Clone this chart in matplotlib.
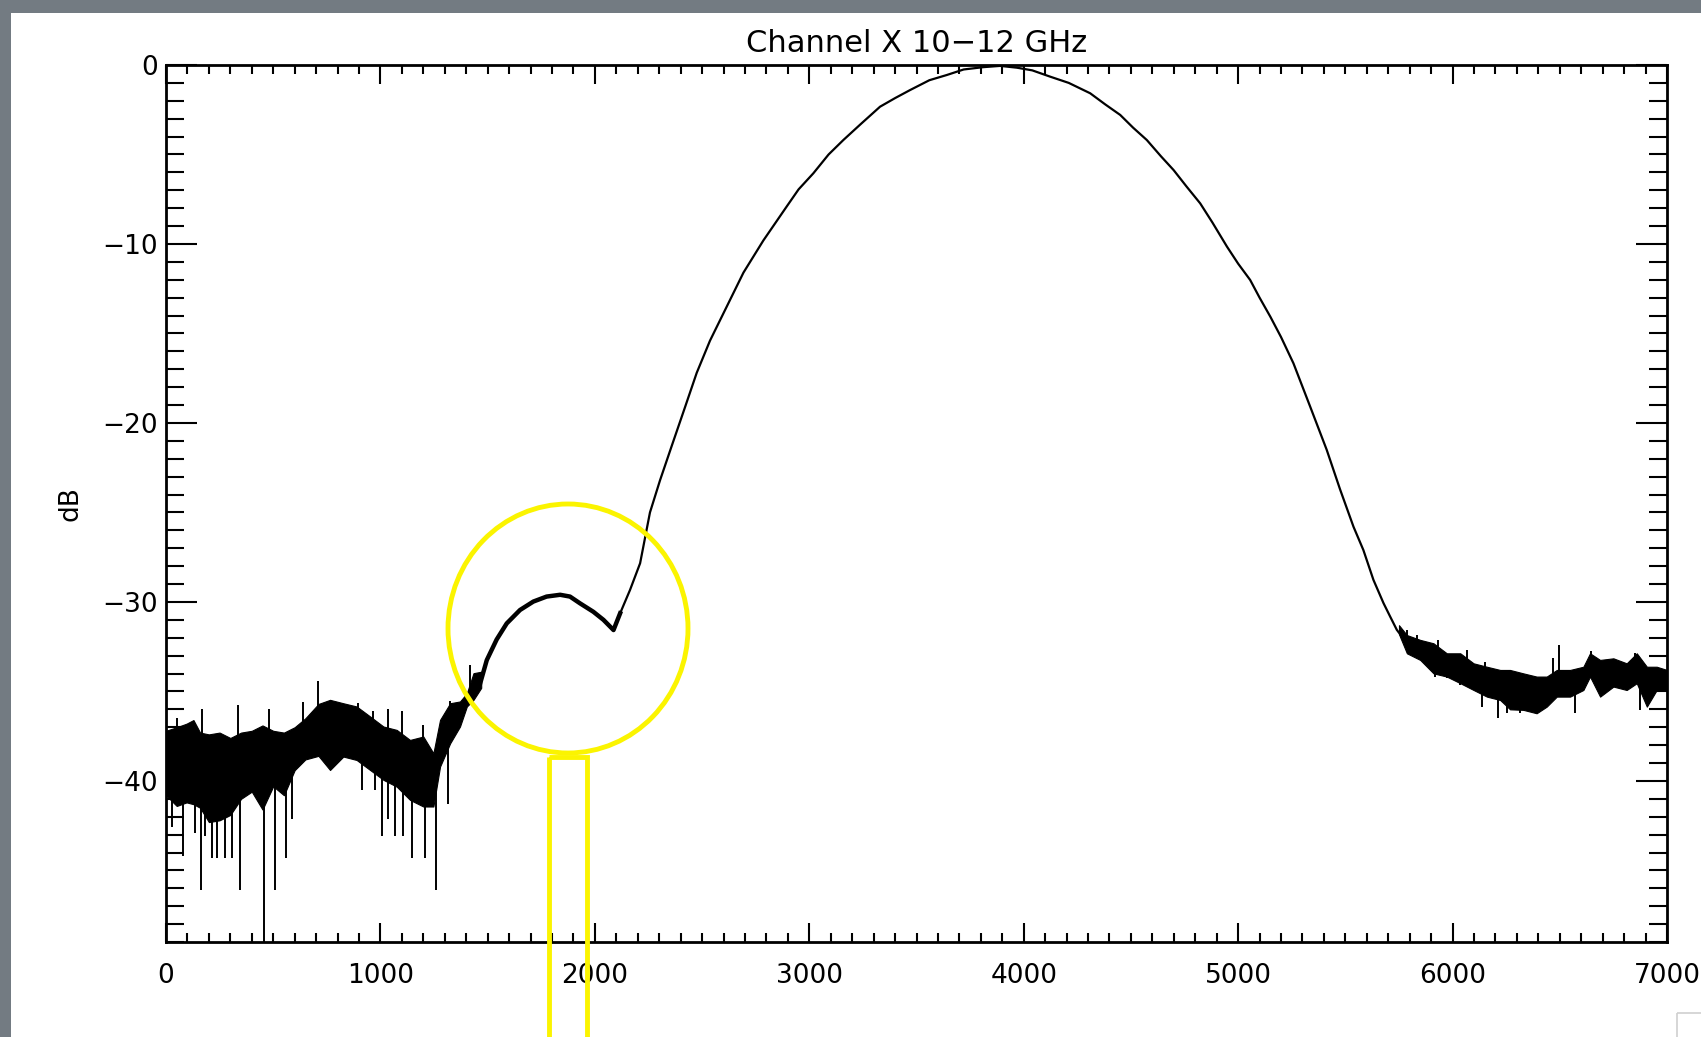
import numpy as np
import matplotlib.pyplot as plt
from matplotlib import transforms
from matplotlib.patches import Ellipse, Rectangle
from matplotlib.ticker import MultipleLocator

# --- data (x: channel, y: dB) ---
# smooth part of the response
curve_x = [1434, 1464, 1496, 1542, 1589, 1651, 1713, 1775, 1838, 1884, 1931, 1993,
           2040, 2087, 2118, 2164, 2211, 2257, 2304, 2358, 2421, 2475, 2537, 2615,
           2693, 2786, 2895, 2950, 3019, 3090, 3159, 3240, 3330, 3400, 3470, 3560,
           3641, 3720, 3812, 3890, 3968, 4040, 4123, 4210, 4310, 4380, 4450, 4510,
           4574, 4640, 4699, 4760, 4823, 4880, 4948, 5000, 5056, 5100, 5150, 5200,
           5258, 5336, 5413, 5475, 5538, 5584, 5631, 5678, 5709, 5740, 5787]
curve_y = [-34.7, -34.6, -33.25, -32.1, -31.2, -30.45, -29.98, -29.7, -29.6, -29.7, -30.08, -30.55,
           -31.0, -31.57, -30.63, -29.33, -27.84, -25.0, -23.2, -21.3, -19.1, -17.2, -15.4, -13.5,
           -11.6, -9.8, -7.9, -6.95, -6.05, -5.0, -4.19, -3.3, -2.33, -1.85, -1.40, -0.85,
           -0.56, -0.25, -0.12, -0.05, -0.15, -0.3, -0.65, -1.0, -1.58, -2.2, -2.79, -3.5,
           -4.19, -5.1, -5.87, -6.8, -7.73, -8.8, -10.15, -11.1, -12.01, -13.0, -14.06, -15.2,
           -16.67, -19.09, -21.5, -23.7, -25.8, -27.1, -28.77, -30.07, -30.82, -31.56, -32.3]
bump_end = 2130

# noisy floor, low channels (upper / lower edge of the dense band)
low_x = [0, 50, 96, 128, 159, 200, 250, 300, 350, 400, 450, 500, 550, 600, 650,
         711, 765, 827, 889, 952, 1014, 1076, 1138, 1200, 1247, 1278, 1325, 1371,
         1403, 1434, 1470]
low_hi = [-37.2, -37.0, -36.8, -36.6, -37.3, -37.4, -37.3, -37.6, -37.3, -37.2, -36.9, -37.2,
          -37.3, -37.0, -36.5, -35.7, -35.47, -35.66, -35.84, -36.4, -36.96, -37.15, -37.71,
          -37.52, -38.45, -36.59, -35.66, -35.56, -35.1, -33.98, -33.9]
low_lo = [-40.8, -41.4, -41.2, -41.3, -41.5, -42.3, -42.2, -41.9, -41.0, -40.6, -41.6, -40.3,
          -40.8, -39.4, -38.8, -38.6, -39.39, -38.64, -38.83, -39.39, -39.94, -40.32, -41.06,
          -41.43, -41.43, -39.2, -37.9, -36.96, -35.84, -35.47, -34.8]

# spikes on the low-channel floor
down_x = [26, 81, 135, 162, 182, 213, 236, 275, 306, 345, 457, 509, 560, 586,
          913, 975, 1006, 1037, 1068, 1107, 1146, 1208, 1260, 1317]
down_top = [-40, -39, -39, -39.5, -39.5, -40, -40, -40, -40, -39.5, -39.5, -39, -39, -39,
            -38, -38, -38.5, -38.5, -39, -39, -39.5, -39.5, -40, -37]
down_tip = [-42.6, -44.2, -42.9, -46.1, -43.1, -44.3, -44.3, -44.3, -44.3, -46.1, -49.0, -46.1,
            -44.3, -42.1, -40.5, -40.5, -43.1, -42.1, -43.1, -43.1, -44.3, -44.3, -46.1, -41.3]
up_x = [50, 166, 337, 482, 641, 711, 897, 967, 1037, 1099, 1197, 1325, 1418]
up_base = [-38.5, -38.5, -38.5, -38.5, -37.5, -36.5, -37, -37.5, -38, -38.5, -39, -37, -35]
up_tip = [-36.5, -36.0, -35.75, -36.0, -35.6, -34.4, -35.66, -36.1, -36.0, -36.1, -36.9, -35.56, -33.5]

# noisy floor, high channels
tail_x = [5750, 5787, 5849, 5911, 5973, 6036, 6098, 6160, 6222, 6268, 6330, 6392, 6439,
          6486, 6548, 6610, 6641, 6688, 6750, 6812, 6859, 6906, 6952, 7000]
tail_hi = [-31.3, -31.85, -32.12, -32.31, -32.87, -32.87, -33.43, -33.62, -33.8, -33.8, -33.99,
           -34.17, -34.17, -33.8, -33.8, -33.62, -32.87, -33.24, -33.15, -33.43, -32.87, -33.62,
           -33.62, -33.8]
tail_lo = [-31.8, -32.87, -33.24, -33.99, -34.17, -34.54, -34.92, -35.29, -35.48, -36.0, -36.03,
           -36.22, -35.85, -35.29, -35.29, -34.92, -34.17, -35.29, -34.73, -34.92, -34.54, -35.85,
           -34.92, -34.92]
tail_up_x = [5787, 5833, 5934, 6067, 6152, 6470, 6498, 6646, 6851]
tail_up_base = [-32.5, -32.8, -33.2, -33.7, -34.3, -34.5, -34.5, -33.8, -33.8]
tail_up_tip = [-31.56, -31.84, -32.12, -32.68, -33.33, -33.15, -32.4, -32.72, -32.87]
tail_down_x = [5919, 5976, 6036, 6137, 6214, 6253, 6315, 6571, 6874]
tail_down_top = [-33.2, -33.5, -33.8, -34.3, -34.6, -34.6, -35.0, -34.5, -34.2]
tail_down_tip = [-34.17, -34.26, -34.64, -35.85, -36.5, -36.2, -36.22, -36.22, -36.03]

title = 'Channel X 10\u221212 GHz'
ylabel = 'dB'

if __name__ == '__main__':
    plt.rcParams['font.family'] = 'DejaVu Sans'
    W, H = 1701, 1037
    fig = plt.figure(figsize=(W / 100, H / 100), dpi=100)
    fig.patch.set_facecolor('white')
    # pixel coordinates, origin top-left
    px = transforms.Affine2D().scale(1 / W, -1 / H).translate(0, 1) + fig.transFigure

    # grey slide background showing at the top and left
    fig.add_artist(Rectangle((0, 0), W, 13, transform=px, color='#737b82', lw=0, zorder=0))
    fig.add_artist(Rectangle((0, 0), 11, H, transform=px, color='#737b82', lw=0, zorder=0))

    ax = fig.add_axes([166 / W, 1 - 942 / H, 1501 / W, 877 / H])

    ax.fill_between(low_x, low_lo, low_hi, color='black', lw=0.8)
    ax.fill_between(tail_x, tail_lo, tail_hi, color='black', lw=0.8)
    ax.vlines(down_x, down_tip, down_top, color='black', lw=1.4)
    ax.vlines(up_x, up_base, up_tip, color='black', lw=1.4)
    ax.vlines(tail_up_x, tail_up_base, tail_up_tip, color='black', lw=1.4)
    ax.vlines(tail_down_x, tail_down_tip, tail_down_top, color='black', lw=1.4)

    cx = np.array(curve_x)
    cy = np.array(curve_y)
    ax.plot(cx, cy, color='black', lw=1.6)
    m = cx <= bump_end
    ax.plot(cx[m], cy[m], color='black', lw=3.2)

    ax.set_xlim(0, 7000)
    ax.set_ylim(-49, 0)
    ax.xaxis.set_major_locator(MultipleLocator(1000))
    ax.xaxis.set_minor_locator(MultipleLocator(100))
    ax.yaxis.set_major_locator(MultipleLocator(10))
    ax.yaxis.set_minor_locator(MultipleLocator(1))

    ax.tick_params(which='both', direction='in', top=True, right=True, width=1.5, labelsize=19)
    ax.tick_params(axis='x', which='major', length=13.5, pad=15)
    ax.tick_params(axis='x', which='minor', length=6.5)
    ax.tick_params(axis='y', which='major', length=22, pad=6)
    ax.tick_params(axis='y', which='minor', length=13)
    for s in ax.spines.values():
        s.set_linewidth(2)

    ax.set_title(title, fontsize=22, pad=9)
    fig.text(70 / W, 1 - 504 / H, ylabel, rotation=90, ha='center', va='center', fontsize=19)

    # yellow highlight drawn on the slide
    fig.add_artist(Ellipse((568, 628.5), 240, 249, transform=px, fill=False,
                           ec='#fbf400', lw=3.5, zorder=10))
    fig.add_artist(Rectangle((549, 757), 38, 300, transform=px, fill=False,
                             ec='#fbf400', lw=3.5, zorder=10))
    # window resize corner
    fig.add_artist(Rectangle((1677, 1013), 30, 30, transform=px, fill=False,
                             ec='#d0d0d0', lw=1.2, zorder=10))

    fig.savefig('out.png', dpi=100, facecolor='white')
